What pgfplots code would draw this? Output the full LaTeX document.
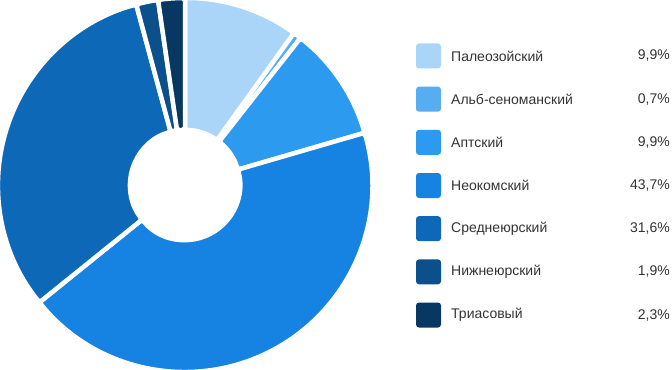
\documentclass[border=0pt]{standalone}
\usepackage{fontspec}
\setmainfont{Liberation Sans}
\usepackage{pgfplots}
\pgfplotsset{compat=1.18}
\definecolor{cPal}{HTML}{AAD5F8}
\definecolor{cAlb}{HTML}{56ADF1}
\definecolor{cApt}{HTML}{2C9AEE}
\definecolor{cNeo}{HTML}{1682E1}
\definecolor{cSred}{HTML}{0D69B7}
\definecolor{cNizh}{HTML}{0B4F8B}
\definecolor{cTri}{HTML}{083762}
\definecolor{txt}{HTML}{333333}
\begin{document}
\begin{tikzpicture}
\path[use as bounding box] (0,0) rectangle (672bp,370bp);
\begin{axis}[at={(0,0)}, anchor=origin, x=1bp, y=1bp, xmin=0, xmax=672, ymin=0, ymax=370,
  hide axis, clip=false, scale only axis]
\xdef\sa{90}
\foreach \v/\c in {9.9/cPal, 0.7/cAlb, 9.9/cApt, 43.7/cNeo, 31.6/cSred, 1.9/cNizh, 2.3/cTri}{
  \pgfmathsetmacro\ea{\sa-3.6*\v}
  \edef\temp{\noexpand\path[fill=\c, draw=white, line width=4.5bp, line join=round, rounded corners=3bp]
    ([shift={(\sa:187bp)}]axis cs:185,185) arc[start angle=\sa, end angle=\ea, radius=187bp]
    -- ([shift={(\ea:55bp)}]axis cs:185,185) arc[start angle=\ea, end angle=\sa, radius=55bp] -- cycle;}
  \temp
  \xdef\sa{\ea}
}
\end{axis}
\foreach \n/\v/\c [count=\i from 0] in {Палеозойский/{9,9\%}/cPal, Альб-сеноманский/{0,7\%}/cAlb, Аптский/{9,9\%}/cApt, Неокомский/{43,7\%}/cNeo, Среднеюрский/{31,6\%}/cSred, Нижнеюрский/{1,9\%}/cNizh, Триасовый/{2,3\%}/cTri}{
  \pgfmathsetmacro\yy{370-56-43.17*\i}
  \fill[\c, rounded corners=3bp] (416bp,\yy bp-12.5bp) rectangle (441bp,\yy bp+12.5bp);
  \node[anchor=west, inner sep=0pt, text=txt, font=\fontsize{14bp}{16bp}\selectfont] at (451bp,\yy bp) {\n};
  \node[anchor=east, inner sep=0pt, text=txt, font=\fontsize{14bp}{16bp}\selectfont] at (670bp,\yy bp) {\v};
}
\end{tikzpicture}
\end{document}
